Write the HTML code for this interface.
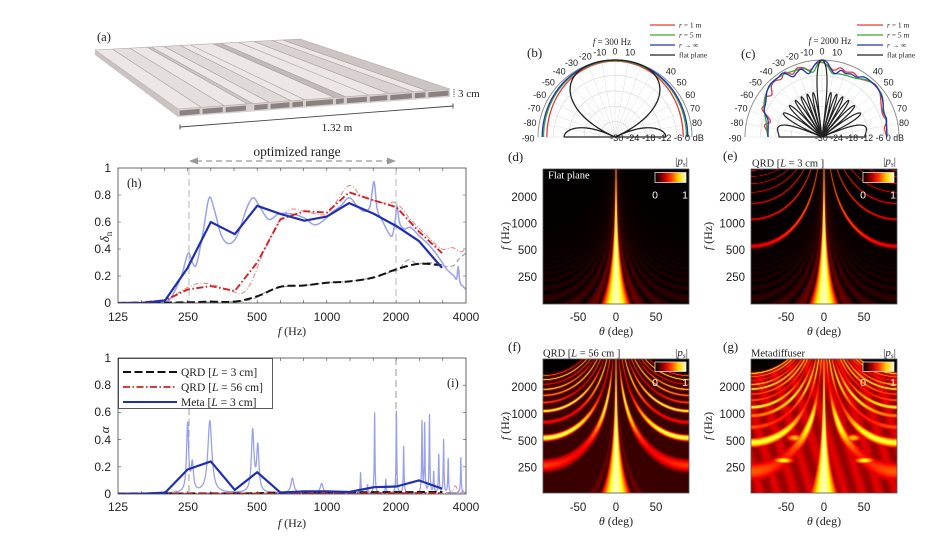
<!DOCTYPE html>
<html><head><meta charset="utf-8"><title>Metadiffuser figure</title>
<style>
html,body{margin:0;padding:0;background:#fff}
#w{position:relative;width:948px;height:544px;overflow:hidden;background:#fff}
#w canvas{position:absolute;display:block;background:#000}
#w svg{position:absolute;left:0;top:0}
text{font-family:"Liberation Sans",sans-serif;fill:#222}
.sr{font-family:"Liberation Serif",serif}
</style></head><body><div id="w">
<canvas id="cd" width="146" height="135" style="left:543px;top:169px;width:146px;height:135px"></canvas>
<canvas id="ce" width="146" height="135" style="left:751px;top:169px;width:146px;height:135px"></canvas>
<canvas id="cf" width="146" height="134" style="left:543px;top:359px;width:146px;height:134px"></canvas>
<canvas id="cg" width="146" height="134" style="left:751px;top:359px;width:146px;height:134px"></canvas>
<svg id="s" width="948" height="544" viewBox="0 0 948 544" xmlns="http://www.w3.org/2000/svg">
<defs>
<linearGradient id="hotg" x1="0" x2="1" y1="0" y2="0">
<stop offset="0" stop-color="#000"/><stop offset="0.3" stop-color="#b00000"/><stop offset="0.5" stop-color="#ff3000"/><stop offset="0.75" stop-color="#ffd000"/><stop offset="1" stop-color="#ffffc0"/>
</linearGradient>
<clipPath id="clh"><rect x="118" y="168" width="348" height="135"/></clipPath>
<clipPath id="cli"><rect x="118" y="358" width="348" height="136"/></clipPath>
</defs>

<!-- (a) -->
<g id="slab"></g>
<text class="sr" x="97" y="41" font-size="12.5">(a)</text>
<line x1="454" y1="89" x2="454" y2="97" stroke="#444" stroke-width="1" stroke-dasharray="1.2 1.2"/>
<text class="sr" x="458" y="97" font-size="11">3 cm</text>
<line x1="180" y1="127" x2="453" y2="106" stroke="#444" stroke-width="0.9"/>
<line x1="180" y1="124.5" x2="180" y2="129.5" stroke="#444" stroke-width="0.9"/>
<line x1="453" y1="103.5" x2="453" y2="108.5" stroke="#444" stroke-width="0.9"/>
<text class="sr" x="337" y="131" font-size="11" text-anchor="middle">1.32 m</text>

<!-- optimized range -->
<text class="sr" x="297" y="156" font-size="13.5" text-anchor="middle">optimized range</text>
<line x1="196" y1="161" x2="389" y2="161" stroke="#999" stroke-width="1.2" stroke-dasharray="6 4"/>
<polygon points="189,161 198,157.5 198,164.5" fill="#999"/>
<polygon points="396,161 387,157.5 387,164.5" fill="#999"/>

<!-- (h) axes -->
<g id="hticks"></g>
<line x1="189" y1="168" x2="189" y2="303" stroke="#b5b5b5" stroke-width="1" stroke-dasharray="7 4"/>
<line x1="396" y1="168" x2="396" y2="303" stroke="#b5b5b5" stroke-width="1" stroke-dasharray="7 4"/>
<g id="hplot" clip-path="url(#clh)"></g>
<rect x="118" y="168" width="348" height="135" fill="none" stroke="#444" stroke-width="0.8"/>
<text class="sr" x="127" y="187" font-size="12.5">(h)</text>
<g font-size="12" text-anchor="end">
<text x="111" y="172">1</text><text x="111" y="199">0.8</text><text x="111" y="226">0.6</text>
<text x="111" y="253">0.4</text><text x="111" y="280">0.2</text><text x="111" y="307">0</text>
</g>
<g font-size="12" text-anchor="middle">
<text x="118" y="321">125</text><text x="188" y="321">250</text><text x="257" y="321">500</text>
<text x="327" y="321">1000</text><text x="396" y="321">2000</text><text x="466" y="321">4000</text>
</g>
<text class="sr" x="292" y="335" font-size="12" text-anchor="middle"><tspan font-style="italic">f</tspan> (Hz)</text>
<text class="sr" transform="translate(109,237) rotate(-90)" font-size="13" text-anchor="middle"><tspan font-style="italic">δ</tspan><tspan font-size="9" dy="3">n</tspan></text>

<!-- (i) axes -->
<g id="iticks"></g>
<line x1="189" y1="408" x2="189" y2="494" stroke="#999" stroke-width="1" stroke-dasharray="7 4"/>
<line x1="396" y1="358" x2="396" y2="494" stroke="#999" stroke-width="1" stroke-dasharray="7 4"/>
<g id="iplot" clip-path="url(#cli)"></g>
<rect x="118" y="358" width="348" height="136" fill="none" stroke="#444" stroke-width="0.8"/>
<text class="sr" x="447" y="387" font-size="12.5">(i)</text>
<g font-size="12" text-anchor="end">
<text x="111" y="362">1</text><text x="111" y="389">0.8</text><text x="111" y="416">0.6</text>
<text x="111" y="444">0.4</text><text x="111" y="471">0.2</text><text x="111" y="498">0</text>
</g>
<g font-size="12" text-anchor="middle">
<text x="118" y="511">125</text><text x="188" y="511">250</text><text x="257" y="511">500</text>
<text x="327" y="511">1000</text><text x="396" y="511">2000</text><text x="466" y="511">4000</text>
</g>
<text class="sr" x="292" y="527" font-size="12" text-anchor="middle"><tspan font-style="italic">f</tspan> (Hz)</text>
<text class="sr" transform="translate(109,430) rotate(-90)" font-size="13" text-anchor="middle" font-style="italic">α</text>
<!-- legend (i) -->
<rect x="118.5" y="358.5" width="154" height="50" fill="#fff" stroke="#333" stroke-width="0.8"/>
<line x1="123" y1="372" x2="177" y2="372" stroke="#111" stroke-width="2" stroke-dasharray="8 3.5"/>
<line x1="123" y1="387" x2="177" y2="387" stroke="#d42020" stroke-width="1.8" stroke-dasharray="7 2.5 1.5 2.5"/>
<line x1="123" y1="402" x2="177" y2="402" stroke="#1f2fb0" stroke-width="2"/>
<g class="sr" font-size="11.5">
<text class="sr" x="181" y="376">QRD [<tspan font-style="italic">L</tspan> = 3 cm]</text>
<text class="sr" x="181" y="391">QRD [<tspan font-style="italic">L</tspan> = 56 cm]</text>
<text class="sr" x="181" y="406">Meta [<tspan font-style="italic">L</tspan> = 3 cm]</text>
</g>

<!-- (b) polar -->
<g id="pb"></g>
<text class="sr" x="527" y="57" font-size="13">(b)</text>
<text class="sr" x="612" y="45" font-size="9" text-anchor="middle"><tspan font-style="italic">f</tspan> = 300 Hz</text>
<g font-size="9" text-anchor="middle">
<text x="528" y="141.3">-90</text><text x="530" y="126.2">-80</text><text x="534" y="111.5">-70</text>
<text x="539.7" y="97.8">-60</text><text x="548.4" y="85.4">-50</text><text x="559.1" y="74.7">-40</text>
<text x="571.5" y="66">-30</text><text x="585.2" y="59.5">-20</text><text x="599.9" y="55.6">-10</text>
<text x="615" y="54.3">0</text><text x="630.1" y="55.6">10</text><text x="670.9" y="74.7">40</text>
<text x="681.6" y="85.4">50</text><text x="690.3" y="97.8">60</text><text x="695" y="111.5">70</text><text x="697" y="126.2">80</text>
</g>
<text x="610" y="141" font-size="9" textLength="94" lengthAdjust="spacingAndGlyphs">-30 -24 -18 -12 -6 0 dB</text>
<g>
<line x1="650" y1="25" x2="675" y2="25" stroke="#e8393a" stroke-width="1.3"/>
<line x1="650" y1="35" x2="675" y2="35" stroke="#33aa33" stroke-width="1.3"/>
<line x1="650" y1="45" x2="675" y2="45" stroke="#2233bb" stroke-width="1.3"/>
<line x1="650" y1="55" x2="675" y2="55" stroke="#222" stroke-width="1.3"/>
<text class="sr" x="679" y="27.5" font-size="7.5"><tspan font-style="italic">r</tspan> = 1 m</text>
<text class="sr" x="679" y="37.5" font-size="7.5"><tspan font-style="italic">r</tspan> = 5 m</text>
<text class="sr" x="679" y="47.5" font-size="7.5"><tspan font-style="italic">r</tspan> → ∞</text>
<text class="sr" x="679" y="57.5" font-size="7.5">flat plane</text>
</g>

<!-- (c) polar -->
<g id="pc"></g>
<text class="sr" x="741" y="58" font-size="13">(c)</text>
<text class="sr" x="830" y="44" font-size="9" text-anchor="middle"><tspan font-style="italic">f</tspan> = 2000 Hz</text>
<g font-size="9" text-anchor="middle">
<text x="735" y="141.3">-90</text><text x="737" y="126.2">-80</text><text x="741" y="111.5">-70</text>
<text x="746.7" y="97.8">-60</text><text x="755.4" y="85.4">-50</text><text x="766.1" y="74.7">-40</text>
<text x="778.5" y="66">-30</text><text x="792.2" y="59.5">-20</text><text x="806.9" y="55.6">-10</text>
<text x="822" y="54.3">0</text><text x="837.1" y="55.6">10</text><text x="877.9" y="74.7">40</text>
<text x="888.6" y="85.4">50</text><text x="897.3" y="97.8">60</text><text x="902" y="111.5">70</text><text x="904" y="126.2">80</text>
</g>
<text x="815" y="141" font-size="9" textLength="89" lengthAdjust="spacingAndGlyphs">-30 -24 -18 -12 -6 0 dB</text>
<g>
<line x1="857" y1="25" x2="883" y2="25" stroke="#e8393a" stroke-width="1.3"/>
<line x1="857" y1="35" x2="883" y2="35" stroke="#33aa33" stroke-width="1.3"/>
<line x1="857" y1="45" x2="883" y2="45" stroke="#2233bb" stroke-width="1.3"/>
<line x1="857" y1="55" x2="883" y2="55" stroke="#222" stroke-width="1.3"/>
<text class="sr" x="887" y="27.5" font-size="7.5"><tspan font-style="italic">r</tspan> = 1 m</text>
<text class="sr" x="887" y="37.5" font-size="7.5"><tspan font-style="italic">r</tspan> = 5 m</text>
<text class="sr" x="887" y="47.5" font-size="7.5"><tspan font-style="italic">r</tspan> → ∞</text>
<text class="sr" x="887" y="57.5" font-size="7.5">flat plane</text>
</g>

<!-- heatmap frames -->
<rect x="543" y="169" width="146" height="135" fill="none" stroke="#555" stroke-width="0.8"/>
<rect x="751" y="169" width="146" height="135" fill="none" stroke="#555" stroke-width="0.8"/>
<rect x="543" y="359" width="146" height="134" fill="none" stroke="#555" stroke-width="0.8"/>
<rect x="751" y="359" width="146" height="134" fill="none" stroke="#555" stroke-width="0.8"/>
<!-- colorbars -->
<rect x="655" y="172.5" width="31" height="10" fill="url(#hotg)" stroke="#ddd" stroke-width="0.8"/>
<rect x="863" y="172.5" width="31" height="10" fill="url(#hotg)" stroke="#ddd" stroke-width="0.8"/>
<rect x="655" y="362" width="31" height="9.5" fill="url(#hotg)" stroke="#ddd" stroke-width="0.8"/>
<rect x="863" y="362" width="31" height="9.5" fill="url(#hotg)" stroke="#ddd" stroke-width="0.8"/>
<g font-size="10.5" text-anchor="middle">
<text x="655" y="198.5" style="fill:#fff">0</text><text x="685" y="198.5" style="fill:#fff">1</text>
<text x="863" y="198.5" style="fill:#fff">0</text><text x="893" y="198.5" style="fill:#fff">1</text>
<text x="655" y="386" style="fill:#fff">0</text><text x="685" y="386" style="fill:#fff">1</text>
<text x="863" y="386" style="fill:#fff">0</text><text x="893" y="386" style="fill:#fff">1</text>
</g>
<g class="sr" font-size="11" text-anchor="end">
<text class="sr" x="688" y="164.5">|<tspan font-style="italic">p</tspan><tspan font-size="7.5" dy="2" font-style="italic">s</tspan><tspan dy="-2">|</tspan></text>
<text class="sr" x="896" y="164.5">|<tspan font-style="italic">p</tspan><tspan font-size="7.5" dy="2" font-style="italic">s</tspan><tspan dy="-2">|</tspan></text>
<text class="sr" x="688" y="356">|<tspan font-style="italic">p</tspan><tspan font-size="7.5" dy="2" font-style="italic">s</tspan><tspan dy="-2">|</tspan></text>
<text class="sr" x="896" y="356">|<tspan font-style="italic">p</tspan><tspan font-size="7.5" dy="2" font-style="italic">s</tspan><tspan dy="-2">|</tspan></text>
</g>
<text class="sr" x="548" y="178.5" font-size="10.5" style="fill:#fff">Flat plane</text>
<text class="sr" x="752" y="166.5" font-size="10.5">QRD [<tspan font-style="italic">L</tspan> = 3 cm ]</text>
<text class="sr" x="543" y="356.5" font-size="10.5">QRD [<tspan font-style="italic">L</tspan> = 56 cm ]</text>
<text class="sr" x="751" y="356.5" font-size="10.5">Metadiffuser</text>
<g class="sr" font-size="13">
<text class="sr" x="508" y="161">(d)</text><text class="sr" x="723" y="160">(e)</text>
<text class="sr" x="508" y="351">(f)</text><text class="sr" x="723" y="351">(g)</text>
</g>
<!-- heatmap y labels -->
<g font-size="11.5" text-anchor="end">
<text x="537" y="201">2000</text><text x="537" y="227.5">1000</text><text x="537" y="254">500</text><text x="537" y="281">250</text>
<text x="745" y="201">2000</text><text x="745" y="227.5">1000</text><text x="745" y="254">500</text><text x="745" y="281">250</text>
<text x="537" y="391">2000</text><text x="537" y="418">1000</text><text x="537" y="445">500</text><text x="537" y="471.5">250</text>
<text x="745" y="391">2000</text><text x="745" y="418">1000</text><text x="745" y="445">500</text><text x="745" y="471.5">250</text>
</g>
<g font-size="11.5" text-anchor="middle">
<text x="578" y="321">-50</text><text x="616" y="321">0</text><text x="656" y="321">50</text>
<text x="786" y="321">-50</text><text x="824" y="321">0</text><text x="864" y="321">50</text>
<text x="578" y="511">-50</text><text x="616" y="511">0</text><text x="656" y="511">50</text>
<text x="786" y="511">-50</text><text x="824" y="511">0</text><text x="864" y="511">50</text>
</g>
<g class="sr" font-size="12" text-anchor="middle">
<text class="sr" x="616" y="335"><tspan font-style="italic">θ</tspan> (deg)</text>
<text class="sr" x="824" y="335"><tspan font-style="italic">θ</tspan> (deg)</text>
<text class="sr" x="616" y="525"><tspan font-style="italic">θ</tspan> (deg)</text>
<text class="sr" x="824" y="525"><tspan font-style="italic">θ</tspan> (deg)</text>
<text class="sr" transform="translate(509,236) rotate(-90)"><tspan font-style="italic">f</tspan> (Hz)</text>
<text class="sr" transform="translate(712,236) rotate(-90)"><tspan font-style="italic">f</tspan> (Hz)</text>
<text class="sr" transform="translate(509,426) rotate(-90)"><tspan font-style="italic">f</tspan> (Hz)</text>
<text class="sr" transform="translate(712,426) rotate(-90)"><tspan font-style="italic">f</tspan> (Hz)</text>
</g>
</svg>
</div>
<script>
(function(){
var NS='http://www.w3.org/2000/svg';
function G(id){return document.getElementById(id);}
function add(p,tag,a){var e=document.createElementNS(NS,tag);for(var k in a)e.setAttribute(k,a[k]);p.appendChild(e);return e;}
function pt(p){return p[0].toFixed(1)+','+p[1].toFixed(1);}

/* ---------- slab (a) ---------- */
(function(){
 var g=G('slab');
 var A=[95,50],B=[300,39],C=[450,89],D=[178,109],th=8;
 function P(t){return [A[0]+(B[0]-A[0])*t,A[1]+(B[1]-A[1])*t];}
 function Q(t){return [D[0]+(C[0]-D[0])*t,D[1]+(C[1]-D[1])*t];}
 add(g,'polygon',{points:[A,D,[D[0],D[1]+th],[A[0],A[1]+5]].map(pt).join(' '),fill:'#cbc3c2'});
 add(g,'polygon',{points:[A,B,C,D].map(pt).join(' '),fill:'#ece7e6'});
 var T=[0,0.085,0.17,0.255,0.275,0.335,0.415,0.465,0.575,0.615,0.70,0.775,0.865,0.915,1];
 var fills={3:'#cfc7c6',5:'#dfd9d8',8:'#c2bab9',11:'#d9d2d1',13:'#cdc5c4',1:'#e4dfde'};
 for(var i=0;i<T.length-1;i++){ if(fills[i]) add(g,'polygon',{points:[P(T[i]),P(T[i+1]),Q(T[i+1]),Q(T[i])].map(pt).join(' '),fill:fills[i]}); }
 for(i=1;i<T.length-1;i++){ var p=P(T[i]),q=Q(T[i]); add(g,'line',{x1:p[0],y1:p[1],x2:q[0],y2:q[1],stroke:'#a59c9b','stroke-width':0.6}); }
 add(g,'polygon',{points:[D,C,[C[0],C[1]+th],[D[0],D[1]+th]].map(pt).join(' '),fill:'#d6cfce'});
 for(i=0;i<T.length-1;i++){ var w=T[i+1]-T[i]; if(w<0.03) continue; var a=Q(T[i]),b=Q(T[i+1]);
  add(g,'polygon',{points:[[a[0]+1.5,a[1]+1.6],[b[0]-1.5,b[1]+1.6],[b[0]-1.5,b[1]+6.6],[a[0]+1.5,a[1]+6.6]].map(pt).join(' '),fill:'#8a8180'}); }
 add(g,'polygon',{points:[A,B,C,D].map(pt).join(' '),fill:'none',stroke:'#b4abaa','stroke-width':0.6});
})();

/* ---------- helpers for (h),(i) ---------- */
function LX(f){return 118+69.6*Math.log2(f/125);}
function HY(v){return 303-135*v;}
function IY(v){return 494-136*v;}
function herm(tab,x){
 var n=tab.length; if(x<=tab[0][0]) return tab[0][1]; if(x>=tab[n-1][0]) return tab[n-1][1];
 var i=0; while(i<n-2 && x>tab[i+1][0]) i++;
 var p0=tab[Math.max(i-1,0)],p1=tab[i],p2=tab[i+1],p3=tab[Math.min(i+2,n-1)];
 var h=p2[0]-p1[0], t=(x-p1[0])/h;
 var m1=(p2[1]-p0[1])/(p2[0]-p0[0])*h, m2=(p3[1]-p1[1])/(p3[0]-p1[0])*h;
 var t2=t*t,t3=t2*t;
 return (2*t3-3*t2+1)*p1[1]+(t3-2*t2+t)*m1+(-2*t3+3*t2)*p2[1]+(t3-t2)*m2;
}
function curveF(pts,fy){var tab=pts.map(function(p){return [Math.log2(p[0]/125),p[1]];});var d='';
 for(var x=tab[0][0];x<=tab[tab.length-1][0]+1e-9;x+=0.008){var v=Math.max(0,herm(tab,x)); d+=(d?'L':'M')+(118+69.6*x).toFixed(1)+','+fy(v).toFixed(1);} return d;}
function polyF(pts,fy){return pts.map(function(p,i){return (i?'L':'M')+LX(p[0]).toFixed(1)+','+fy(p[1]).toFixed(1);}).join('');}
function P(g,d,st,w,da,op){var a={d:d,fill:'none',stroke:st,'stroke-width':w,'stroke-linejoin':'round'}; if(da)a['stroke-dasharray']=da; if(op)a['stroke-opacity']=op; add(g,'path',a);}

function ticks(gid,y0,y1){var g=G(gid);var d='';
 for(var i=1;i<15;i++){var x=118+23.2*i; d+='M'+x.toFixed(1)+','+y1+'v-3M'+x.toFixed(1)+','+y0+'v3';}
 for(var k=1;k<5;k++){var y=y1-(y1-y0)*k/5; d+='M118,'+y.toFixed(1)+'h3M466,'+y.toFixed(1)+'h-3';}
 add(g,'path',{d:d,stroke:'#444','stroke-width':0.6,fill:'none'});}
ticks('hticks',168,303); ticks('iticks',358,494);

/* ---------- (h) ---------- */
(function(){
 var g=G('hplot');
 var grayRaw=[[125,0],[250,0.005],[400,0.01],[480,0.03],[560,0.09],[650,0.12],[800,0.13],[1000,0.15],[1250,0.16],[1600,0.19],[1900,0.23],[2050,0.25],[2200,0.31],[2300,0.32],[2450,0.29],[2700,0.3],[3000,0.29],[3300,0.27],[3550,0.28],[3750,0.33],[4000,0.37]];
 P(g,curveF(grayRaw,HY),'#9a9a9a',1.1,'5 3');
 var redRaw=[[125,0],[200,0.02],[240,0.1],[280,0.145],[330,0.13],[400,0.08],[430,0.07],[470,0.15],[540,0.4],[620,0.6],[690,0.69],[800,0.68],[900,0.66],[1000,0.66],[1100,0.75],[1250,0.87],[1400,0.8],[1600,0.76],[1800,0.74],[2000,0.74],[2300,0.62],[2700,0.5],[3150,0.4],[3500,0.41],[3800,0.38],[4000,0.4]];
 P(g,curveF(redRaw,HY),'#f08a8a',1.1,'5 2 1 2');
 var blueRaw=[[125,0],[160,0],[195,0.01],[210,0.03],[235,0.2],[252,0.37],[262,0.3],[272,0.28],[290,0.5],[310,0.78],[325,0.7],[350,0.5],[378,0.44],[410,0.5],[450,0.7],[480,0.78],[510,0.72],[560,0.62],[620,0.66],[700,0.66],[800,0.63],[880,0.58],[950,0.6],[1050,0.67],[1150,0.72],[1250,0.78],[1350,0.72],[1450,0.68],[1540,0.72],[1600,0.9],[1650,0.7],[1750,0.6],[1850,0.52],[1920,0.5],[1980,0.62],[2010,0.72],[2060,0.6],[2150,0.55],[2300,0.56],[2500,0.5],[2800,0.42],[3100,0.32],[3300,0.25],[3550,0.2],[3650,0.18],[3700,0.27],[3760,0.16],[3900,0.12],[4000,0.1]];
 P(g,curveF(blueRaw,HY),'#9ba2ea',1.5);
 var bk=[[125,0],[250,0.005],[315,0.01],[400,0.01],[500,0.05],[630,0.12],[800,0.13],[1000,0.15],[1250,0.16],[1600,0.19],[2000,0.25],[2500,0.29],[3150,0.28]];
 P(g,curveF(bk,HY),'#111',2,'8 3.5');
 var rd=[[125,0],[160,0.005],[200,0.02],[250,0.1],[315,0.125],[400,0.09],[500,0.3],[630,0.62],[800,0.68],[1000,0.67],[1250,0.82],[1600,0.76],[2000,0.71],[2500,0.53],[3150,0.37]];
 P(g,polyF(rd,HY),'#d42020',1.9,'7 2.5 1.5 2.5');
 var bl=[[125,0],[160,0],[200,0.02],[250,0.26],[315,0.6],[400,0.51],[500,0.72],[630,0.66],[800,0.61],[1000,0.64],[1250,0.74],[1600,0.66],[2000,0.57],[2500,0.46],[3150,0.26]];
 P(g,polyF(bl,HY),'#1f2fb0',2.2);
})();

/* ---------- (i) ---------- */
(function(){
 var g=G('iplot');
 var pk=[[250,0.5,0.018],[262,0.2,0.02],[312,0.53,0.035],[478,0.45,0.022],[503,0.33,0.02],[710,0.11,0.025],[950,0.07,0.025],[1400,0.15,0.006],[1500,0.06,0.006],[1610,0.59,0.006],[1800,0.1,0.006],[2000,0.6,0.006],[2150,0.34,0.006],[2580,0.52,0.006],[2650,0.5,0.006],[2780,0.57,0.006],[2900,0.15,0.006],[3050,0.28,0.006],[3200,0.39,0.006],[3350,0.25,0.006],[3800,0.26,0.006]];
 function iraw(L){var v=0.006; for(var j=0;j<pk.length;j++){var u=(L-Math.log2(pk[j][0]/125))/pk[j][2]; v+=pk[j][1]/(1+u*u);} return v;}
 var xs=[]; for(var x=0;x<=5;x+=0.0025) xs.push(x); pk.forEach(function(p){xs.push(Math.log2(p[0]/125));}); xs.sort(function(a,b){return a-b;});
 var d=''; xs.forEach(function(x){d+=(d?'L':'M')+(118+69.6*x).toFixed(2)+','+IY(iraw(x)).toFixed(1);});
 var rr=''; for(x=0;x<=5;x+=0.01){var f=125*Math.pow(2,x);var v=0.004+0.055*Math.exp(-Math.pow(Math.log2(f/3600)/0.035,2))+0.02*Math.exp(-Math.pow(Math.log2(f/3900)/0.03,2)); rr+=(rr?'L':'M')+(118+69.6*x).toFixed(1)+','+IY(v).toFixed(1);}
 P(g,rr,'#f08a8a',1.1,'5 2 1 2');
 P(g,curveF([[125,0.005],[1000,0.008],[2000,0.01],[4000,0.01]],IY),'#9a9a9a',1.1,'5 3');
 P(g,d,'#9aa1ec',1.3);
 P(g,polyF([[125,0.003],[500,0.005],[630,0.012],[1000,0.012],[2000,0.014],[3150,0.015]],IY),'#111',2,'8 3.5');
 P(g,polyF([[125,0.002],[500,0.004],[1000,0.005],[2000,0.006],[3150,0.006]],IY),'#d42020',1.8,'7 2.5 1.5 2.5');
 P(g,polyF([[125,0],[160,0.002],[200,0.01],[250,0.18],[315,0.24],[400,0.03],[500,0.16],[630,0.01],[800,0.02],[1000,0.02],[1250,0.015],[1600,0.05],[2000,0.055],[2500,0.1],[3150,0.04]],IY),'#1f2fb0',2.2);
})();

/* ---------- polar ---------- */
function sinc(x){return Math.abs(x)<1e-9?1:Math.sin(x)/x;}
function polarPath(cx,cy,R,fn,step,closeC){var d='';for(var t=-90;t<=90.0001;t+=step){var r=Math.max(0,fn(t));var a=t*Math.PI/180;d+=(d?'L':'M')+(cx+r*R*Math.sin(a)).toFixed(2)+','+(cy-r*R*Math.cos(a)).toFixed(2);}
 if(closeC) d='M'+cx+','+cy+'L'+d.slice(1)+'L'+cx+','+cy; return d;}
function tabFn(tab){return function(t){return herm(tab,t);};}
function grid(g,cx,cy,R){
 var d='';for(var k=1;k<5;k++){var r=R*k/5;d+='M'+(cx-r)+','+cy+'A'+r+','+r+' 0 0 1 '+(cx+r)+','+cy;}
 add(g,'path',{d:d,fill:'none',stroke:'#d6d6d6','stroke-width':0.6});
 d='';for(var t=-90;t<=90;t+=10){var a=t*Math.PI/180;d+='M'+cx+','+cy+'L'+(cx+R*Math.sin(a)).toFixed(1)+','+(cy-R*Math.cos(a)).toFixed(1);}
 add(g,'path',{d:d,fill:'none',stroke:'#dedede','stroke-width':0.5});
 add(g,'path',{d:'M'+(cx-R)+','+cy+'A'+R+','+R+' 0 0 1 '+(cx+R)+','+cy,fill:'none',stroke:'#8a8a8a','stroke-width':0.9});
}
(function(){
 var g=G('pb'),cx=615,cy=137,R=77; grid(g,cx,cy,R);
 function s2(t){var s=Math.sin(t*Math.PI/180);return s*s;}
 P(g,polarPath(cx,cy,R,function(t){return 0.985-0.10*s2(t);},1,false),'#e8393a',1.3);
 P(g,polarPath(cx,cy,R,function(t){return 0.993-0.065*s2(t);},1,false),'#33aa33',1.3);
 P(g,polarPath(cx,cy,R,function(t){return 1.0-0.055*s2(t);},1,false),'#2233bb',1.3);
 P(g,polarPath(cx,cy,R,function(t){var a=Math.abs(t); if(a<66) return 1-Math.pow(a/66,4.5); var u=Math.min(1,(a-66)/24); return 0.66*Math.pow(Math.sin(u*Math.PI/2),0.6);},0.5,true),'#222',1.3);
})();
(function(){
 var g=G('pc'),cx=822,cy=137,R=77; grid(g,cx,cy,R);
 var red=[[-90,0.70],[-84,0.72],[-78,0.76],[-74,0.7],[-70,0.74],[-65,0.86],[-60,0.85],[-55,0.9],[-50,0.85],[-45,0.93],[-40,0.95],[-35,0.92],[-30,0.97],[-25,0.9],[-20,0.95],[-15,0.93],[-10,0.88],[-5,0.95],[0,0.97],[5,0.93],[10,0.88],[15,0.93],[20,0.9],[26,0.93],[32,0.9],[38,0.93],[45,0.97],[52,0.95],[58,0.9],[64,0.86],[70,0.84],[76,0.86],[82,0.82],[90,0.84]];
 var grn=[[-90,0.7],[-75,0.75],[-60,0.87],[-50,0.93],[-40,0.96],[-30,0.95],[-22,0.93],[-15,0.92],[-8,0.85],[-3,0.95],[0,0.97],[4,0.93],[9,0.84],[15,0.85],[22,0.86],[30,0.88],[38,0.94],[45,0.96],[55,0.95],[65,0.88],[75,0.86],[90,0.84]];
 var blu=[[-90,0.70],[-80,0.71],[-72,0.74],[-66,0.82],[-58,0.86],[-50,0.93],[-44,0.96],[-36,0.96],[-31,0.97],[-26,0.87],[-21,0.9],[-17,0.92],[-12,0.84],[-8,0.9],[-4,0.97],[0,1.0],[4,0.97],[8,0.88],[12,0.84],[16,0.9],[20,0.88],[25,0.9],[30,0.9],[35,0.95],[40,0.96],[48,0.96],[55,0.94],[62,0.9],[68,0.86],[74,0.87],[80,0.85],[90,0.84]];
 P(g,polarPath(cx,cy,R,tabFn(red),0.5,false),'#e8393a',1.3);
 P(g,polarPath(cx,cy,R,tabFn(grn),0.5,false),'#33aa33',1.3);
 P(g,polarPath(cx,cy,R,tabFn(blu),0.5,false),'#2233bb',1.3);
 P(g,polarPath(cx,cy,R,function(t){var s=Math.sin(t*Math.PI/180);var x=Math.abs(24*s);var a=(x<Math.PI)?Math.abs(sinc(x)):Math.abs(Math.sin(x))*0.24;return (20*Math.log10(Math.max(a,1e-6))+30)/30;},0.2,true),'#222',1.2);
})();

/* ---------- heatmaps (functions return display value d in 0..1) ---------- */
var Ck=0.075, PI=Math.PI;
function hot(d){var r=Math.min(1,d/0.45),g=Math.max(0,Math.min(1,(d-0.45)/0.4)),b=Math.max(0,Math.min(1,(d-0.85)/0.15))*0.72;return [r*255,g*255,b*255];}
function core(x){var ax=Math.abs(x); return ax<PI?Math.pow(Math.abs(sinc(x)),0.48):0.85*Math.abs(sinc(x));}
function lobe(x,a,pw,side){var ax=Math.abs(x); if(ax<PI) return a*Math.pow(Math.max(0,sinc(x)),pw); return side*a*Math.abs(sinc(x));}
function render(id,H,fn){
 var c=G(id); if(!c||!c.getContext) return; var ctx=c.getContext('2d'); var W=146;
 var img=ctx.createImageData(W,H); var SS=4;
 for(var py=0;py<H;py++){
  var f=125*Math.pow(2,5*(1-(py+0.5)/H));
  for(var px=0;px<W;px++){
   var r=0,gg=0,b=0;
   for(var k=0;k<SS;k++){
    var th=-90+(px+(k+0.5)/SS)/W*180; var s=Math.sin(th*PI/180);
    var d=fn(th,s,f); d=Math.max(0,Math.min(1,d));
    var col=hot(d); r+=col[0];gg+=col[1];b+=col[2];
   }
   var i=(py*W+px)*4; img.data[i]=r/SS; img.data[i+1]=gg/SS; img.data[i+2]=b/SS; img.data[i+3]=255;
  }
 }
 ctx.putImageData(img,0,0);
}
render('cd',135,function(th,s,f){return core(Ck*f*s);});
render('ce',135,function(th,s,f){var d=core(Ck*f*s),fs=f*s;
 for(var n=1;n<=8;n++){var a=0.8*(1-0.45*Math.abs(s));
  d=Math.max(d,lobe(Ck*(fs-n*550),a,0.8,0.25),lobe(Ck*(fs+n*550),a,0.8,0.25));} return d;});
render('cf',134,function(th,s,f){var d=core(Ck*f*s),fs=f*s,L=Math.log2(f/125);
 if(Math.abs(fs)<10.5*260) d=Math.max(d,0.1);
 for(var n=1;n<=10;n++){var a=0.45+0.5*(0.5+0.5*Math.sin(n*2.1+L*1.7));
  d=Math.max(d,lobe(Ck*0.75*(fs-n*260),a,0.7,0.35),lobe(Ck*0.75*(fs+n*260),a,0.7,0.35));}
 return d;});
render('cg',134,function(th,s,f){var d=core(Ck*f*s),fs=f*s,L=Math.log2(f/125);
 if(Math.abs(fs)<12*230) d=Math.max(d,0.33+0.07*Math.sin(th*0.3+L*3));
 for(var n=1;n<=12;n++){var a=0.5+0.42*(0.5+0.5*Math.sin(n*1.3+L*2.3+0.5));
  d=Math.max(d,lobe(Ck*0.55*(fs-n*230),a,0.7,0.35),lobe(Ck*0.55*(fs+n*230),a,0.7,0.35));}
 var at=Math.abs(th);
 d=Math.max(d,0.92*Math.exp(-Math.pow((at-50)/14,2)-Math.pow(Math.log2(f/290)/0.13,2)));
 d=Math.max(d,0.78*Math.exp(-Math.pow((at-36)/12,2)-Math.pow(Math.log2(f/520)/0.16,2)));
 return d;});
})();
</script>
</body></html>
